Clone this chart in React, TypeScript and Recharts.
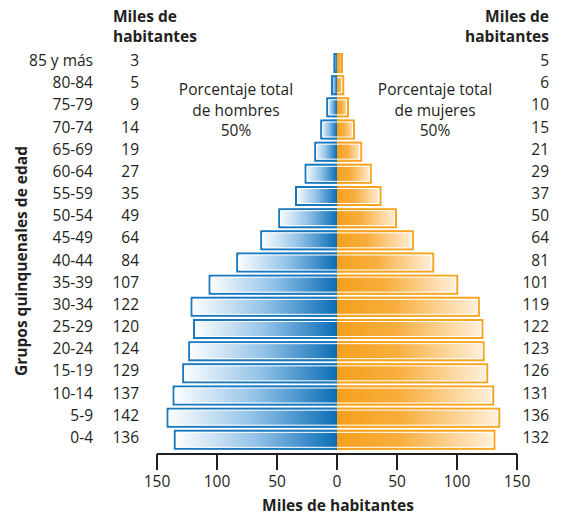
import React from 'react';
import { BarChart, Bar, XAxis, YAxis } from 'recharts';

const ageGroups = ['85 y más', '80-84', '75-79', '70-74', '65-69', '60-64', '55-59', '50-54', '45-49', '40-44', '35-39', '30-34', '25-29', '20-24', '15-19', '10-14', '5-9', '0-4'];
const men = [3, 5, 9, 14, 19, 27, 35, 49, 64, 84, 107, 122, 120, 124, 129, 137, 142, 136];
const women = [5, 6, 10, 15, 21, 29, 37, 50, 64, 81, 101, 119, 122, 123, 126, 131, 136, 132];
const xTicks = [-150, -100, -50, 0, 50, 100, 150];

const FONT = '"Open Sans", Lato, sans-serif';
const FS = 15.5;
const textColor = '#231f20';
const blueBorder = '#1a78bf';
const orangeBorder = '#f7a520';

const PyramidBar = (props: any) => {
  const { x, y, width, height, side } = props;
  const x0 = width < 0 ? x + width : x;
  const w = Math.abs(width);
  const h = height;
  if (!w) return null;
  const men = side === 'men';
  const c = men ? blueBorder : orangeBorder;
  const i = 2.5;
  // outer frame and inner white line skip the side that touches the centre
  const outer = men
    ? `M${x0 + w},${y + 1} H${x0 + 1} V${y + h - 1} H${x0 + w}`
    : `M${x0},${y + 1} H${x0 + w - 1} V${y + h - 1} H${x0}`;
  const inner = men
    ? `M${x0 + w},${y + i} H${x0 + i} V${y + h - i} H${x0 + w}`
    : `M${x0},${y + i} H${x0 + w - i} V${y + h - i} H${x0}`;
  return (
    <g>
      <rect x={x0} y={y} width={w} height={h} fill={men ? 'url(#gMen)' : 'url(#gWomen)'} />
      <path d={outer} fill="none" stroke={c} strokeWidth={2} />
      {w > 6 && <path d={inner} fill="none" stroke="#ffffff" strokeWidth={1} />}
    </g>
  );
};

const AgeTick = (props: any) => {
  const { y, index } = props;
  return (
    <g fontFamily={FONT} fontSize={FS} fill={textColor}>
      <text x={93} y={y} dy={3} textAnchor="end">{ageGroups[index]}</text>
      <text x={139} y={y} dy={3} textAnchor="end">{men[index]}</text>
      <text x={549} y={y} dy={3} textAnchor="end">{women[index]}</text>
    </g>
  );
};

const ValueTick = (props: any) => {
  const { x, y, payload } = props;
  return (
    <text x={x} y={y} dy={15} textAnchor="middle" fontFamily={FONT} fontSize={FS} fill={textColor}>
      {Math.abs(payload.value)}
    </text>
  );
};

export default function App() {
  const chartData = ageGroups.map((age, i) => ({
    age,
    men: -men[i],
    women: women[i]
  }));

  const bold = { fontFamily: FONT, fontWeight: 700, fontSize: FS, fill: textColor };
  const note = { fontFamily: FONT, fontSize: FS, fill: textColor, textAnchor: 'middle' as const };

  return (
    <div style={{ position: 'absolute', left: 0, top: 0, width: 572, height: 516, background: '#fff' }}>
      <BarChart
        width={572}
        height={516}
        data={chartData}
        layout="vertical"
        stackOffset="sign"
        barSize={20}
        margin={{ top: 52, right: 55, left: 0, bottom: 12 }}
      >
        <defs>
          <linearGradient id="gMen" x1="0" y1="0" x2="1" y2="0">
            <stop offset="0" stopColor="#ffffff" />
            <stop offset="0.5" stopColor="#93c3e8" />
            <stop offset="1" stopColor="#0b6db6" />
          </linearGradient>
          <linearGradient id="gWomen" x1="0" y1="0" x2="1" y2="0">
            <stop offset="0" stopColor="#f5a01b" />
            <stop offset="0.4" stopColor="#f8ae3e" />
            <stop offset="1" stopColor="#fff1de" />
          </linearGradient>
        </defs>
        <XAxis
          type="number"
          domain={[-150, 150]}
          ticks={xTicks}
          allowDataOverflow
          height={50}
          tickSize={16}
          axisLine={{ stroke: textColor, strokeWidth: 2 }}
          tickLine={{ stroke: textColor, strokeWidth: 2 }}
          tick={<ValueTick />}
        />
        <YAxis
          type="category"
          dataKey="age"
          width={157}
          axisLine={false}
          tickLine={false}
          padding={{ top: 0, bottom: 3 }}
          interval={0}
          tick={<AgeTick />}
        />
        <Bar dataKey="men" stackId="a" isAnimationActive={false} shape={(p: any) => <PyramidBar {...p} side="men" />} />
        <Bar dataKey="women" stackId="a" isAnimationActive={false} shape={(p: any) => <PyramidBar {...p} side="women" />} />
      </BarChart>
      <svg width={572} height={516} style={{ position: 'absolute', left: 0, top: 0, pointerEvents: 'none' }}>
        <text x={113} y={22} {...bold}>Miles de</text>
        <text x={113} y={42} {...bold}>habitantes</text>
        <text x={549} y={22} {...bold} textAnchor="end">Miles de</text>
        <text x={549} y={42} {...bold} textAnchor="end">habitantes</text>
        <text x={236} y={95} {...note}>Porcentaje total</text>
        <text x={236} y={116} {...note}>de hombres</text>
        <text x={236} y={136} {...note}>50%</text>
        <text x={435} y={95} {...note}>Porcentaje total</text>
        <text x={435} y={116} {...note}>de mujeres</text>
        <text x={435} y={136} {...note}>50%</text>
        <text x={338} y={511} {...bold} textAnchor="middle">Miles de habitantes</text>
        <text x={27} y={261} {...bold} textAnchor="middle" transform="rotate(-90 27 261)">Grupos quinquenales de edad</text>
      </svg>
    </div>
  );
}
